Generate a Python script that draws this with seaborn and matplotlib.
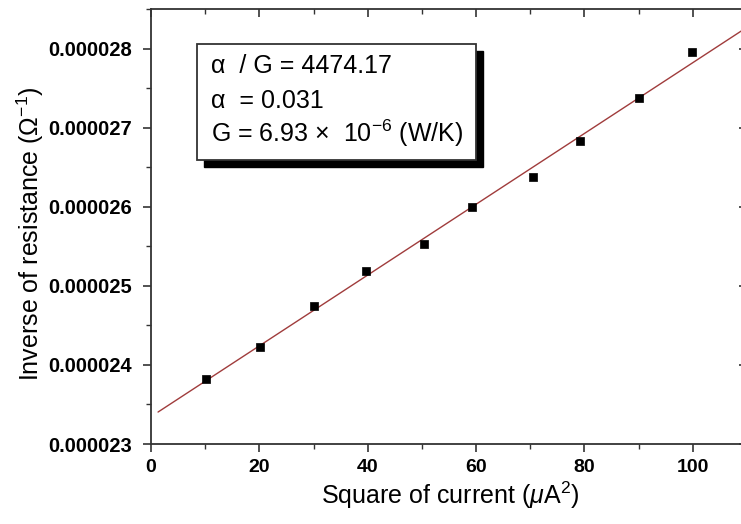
import numpy as np
import pandas as pd
import matplotlib
matplotlib.use("Agg")
import matplotlib.pyplot as plt
import seaborn as sns
from matplotlib.patches import Rectangle

# ---- data ----
current_sq = [10.1, 20.2, 30.1, 39.6, 50.3, 59.3, 70.5, 79.2, 90.1, 99.9]
inv_resistance = [2.3823e-5, 2.4227e-5, 2.4744e-5, 2.5190e-5, 2.5535e-5,
                  2.5997e-5, 2.6371e-5, 2.6833e-5, 2.7372e-5, 2.7952e-5]
y_ticks = [2.3e-5, 2.4e-5, 2.5e-5, 2.6e-5, 2.7e-5, 2.8e-5]
y_tick_labels = ["0.000023", "0.000024", "0.000025", "0.000026", "0.000027", "0.000028"]
x_ticks = [0, 20, 40, 60, 80, 100]
x_tick_labels = ["0", "20", "40", "60", "80", "100"]
box_lines = ["α  / G = 4474.17", "α  = 0.031", "G = 6.93 ×  10$^{-6}$ (W/K)"]

sns.set_theme(style="ticks")
plt.rcParams["font.family"] = ["Liberation Sans", "DejaVu Sans"]
plt.rcParams["mathtext.fontset"] = "custom"
plt.rcParams["mathtext.rm"] = "Liberation Sans"
plt.rcParams["mathtext.it"] = "Liberation Sans:italic"
plt.rcParams["mathtext.bf"] = "Liberation Sans:bold"

df = pd.DataFrame({"x": current_sq, "y": inv_resistance})
slope, intercept = np.polyfit(df["x"], df["y"], 1)
fit = pd.DataFrame({"x": [1.3, 110.0]})
fit["y"] = slope * fit["x"] + intercept

fig = plt.figure(figsize=(7.41, 5.24), dpi=100)
ax = fig.add_axes([151 / 741, 80 / 524, (747 - 151) / 741, (444 - 9) / 524])

sns.lineplot(data=fit, x="x", y="y", ax=ax, color="#a03c3c", linewidth=1.0)
sns.scatterplot(data=df, x="x", y="y", ax=ax, marker="s", s=30, color="black",
                edgecolor="black", linewidth=0.5, zorder=3)

ax.set_xlim(0, 110)
ax.set_ylim(2.3e-5, 2.85e-5)
ax.set_xticks(x_ticks)
ax.set_xticklabels(x_tick_labels)
ax.set_yticks(y_ticks)
ax.set_yticklabels(y_tick_labels)
ax.set_xticks(np.arange(10, 110, 20), minor=True)
ax.set_yticks(np.arange(2.35e-5, 2.85e-5, 1e-6), minor=True)

for sp in ax.spines.values():
    sp.set_visible(True)
    sp.set_color("#333333")
    sp.set_linewidth(1.3)

ax.tick_params(axis="both", which="major", length=6, width=1.2, color="#333333")
ax.tick_params(axis="both", which="minor", length=3.5, width=1.0, color="#333333")
ax.tick_params(axis="x", which="both", top=True, bottom=True, direction="out")
ax.tick_params(axis="y", which="both", left=True, right=True, direction="out")
ax.tick_params(axis="x", which="major", pad=5)
ax.tick_params(axis="y", which="major", pad=8)
for lab in ax.get_xticklabels() + ax.get_yticklabels():
    lab.set_fontweight("bold")
    lab.set_fontsize(14.5)
    lab.set_color("black")
for lab in ax.get_xticklabels():
    lab.set_fontsize(14)
# top/right ticks point inward
for t in ax.xaxis.get_major_ticks() + ax.xaxis.get_minor_ticks():
    t.tick2line.set_marker(3)
for t in ax.yaxis.get_major_ticks() + ax.yaxis.get_minor_ticks():
    t.tick2line.set_marker(0)

ax.set_xlabel(r"Square of current ($\mu$A$^2$)", fontsize=18, color="black")
ax.set_ylabel(r"Inverse of resistance ($\Omega^{-1}$)", fontsize=18, color="black")
ax.xaxis.set_label_coords((450 - 151) / 596, -(504 - 444) / 435)
ax.yaxis.set_label_coords(-(151 - 30) / 596, (444 - 234) / 435)
ax.xaxis.label.set_va("baseline")
ax.yaxis.label.set_va("center")

# text box with drop shadow (figure pixel coordinates)
def fx(px):
    return px / 741
def fy(py):
    return 1 - py / 524
x0, y0, x1, y1 = 197, 44, 476, 160
shadow = Rectangle((fx(x0 + 7), fy(y1 + 7)), fx(x1 - x0), (y1 - y0) / 524,
                   transform=fig.transFigure, facecolor="black", edgecolor="black", zorder=5)
box = Rectangle((fx(x0), fy(y1)), fx(x1 - x0), (y1 - y0) / 524,
                transform=fig.transFigure, facecolor="white", edgecolor="#333333",
                linewidth=1.3, zorder=6)
fig.add_artist(shadow)
fig.add_artist(box)
for line, py in zip(box_lines, [73, 108, 142]):
    fig.text(fx(211), fy(py), line, fontsize=18, color="black",
             va="baseline", ha="left", zorder=7)

fig.savefig("out.png", dpi=100)
